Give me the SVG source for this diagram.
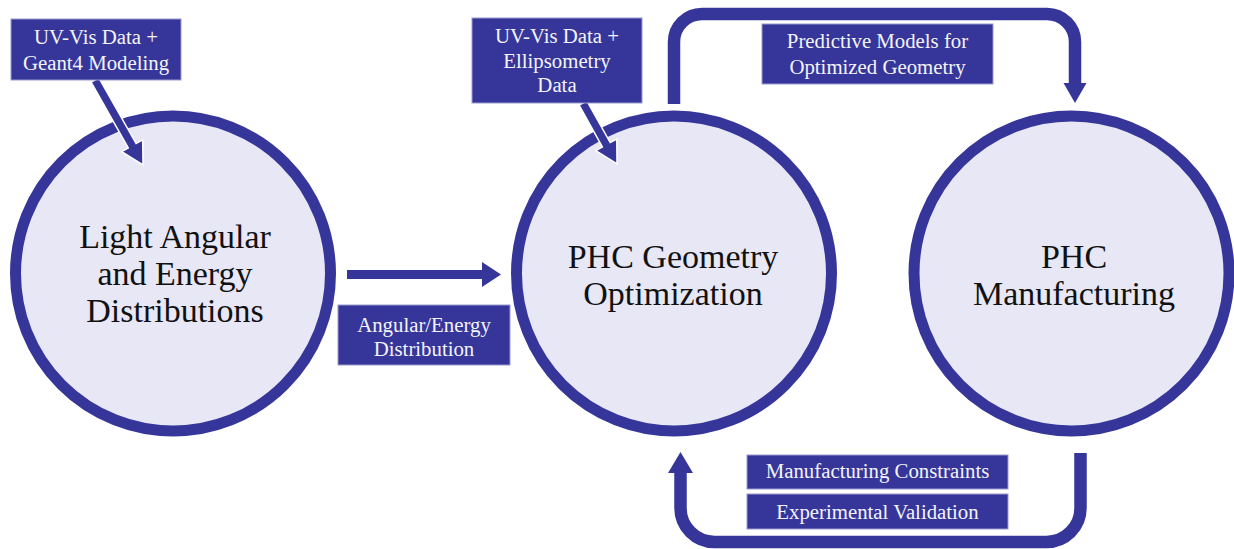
<svg xmlns="http://www.w3.org/2000/svg" width="1234" height="549" viewBox="0 0 1234 549">
<style>
.circ{fill:#E7E7F6;stroke:#36369A;stroke-width:11}
.ctext{font-family:'Liberation Serif','DejaVu Serif',serif;font-size:34px;fill:#111;text-anchor:middle}
.box{fill:#36369A;stroke:#9A9AD0;stroke-width:1}
.btext{font-family:'Liberation Serif','DejaVu Serif',serif;font-size:20.8px;fill:#F4F4F8;text-anchor:middle}
.loop{fill:none;stroke:#36369A;stroke-width:12.5;stroke-linecap:butt}
.head{fill:#36369A}
.dhead{fill:#36369A;stroke:#FFFFFF;stroke-width:1.5;stroke-linejoin:miter}
</style>
<rect width="1234" height="549" fill="#FFFFFF"/>
<g id="connectors">
  <path class="loop" d="M674,104 V42 A28,28 0 0 1 702,14 H1047 A28,28 0 0 1 1075,42 V84"/>
  <polygon class="head" points="1063.5,83 1086.5,83 1075,103"/>
  <path class="loop" d="M1080.5,453 V508 A34,34 0 0 1 1046.5,542 H714.5 A34,34 0 0 1 680.5,508 V472"/>
  <polygon class="head" points="668,473 693,473 680.5,452"/>
  <polygon class="head" points="347,270 482,270 482,262 501,274.5 482,287 482,279 347,279"/>
</g>
<g id="node-light">
  <circle class="circ" cx="173" cy="273.5" r="157.5"/>
  <text class="ctext" x="175" y="248">Light Angular</text>
  <text class="ctext" x="175" y="285">and Energy</text>
  <text class="ctext" x="175" y="322">Distributions</text>
</g>
<g id="node-geometry">
  <circle class="circ" cx="674" cy="273.5" r="157.5"/>
  <text class="ctext" x="673" y="268">PHC Geometry</text>
  <text class="ctext" x="673" y="305">Optimization</text>
</g>
<g id="node-manufacturing">
  <circle class="circ" cx="1071.5" cy="273.5" r="157.5"/>
  <text class="ctext" x="1074" y="268">PHC</text>
  <text class="ctext" x="1074" y="305">Manufacturing</text>
</g>
<g id="label-uvvis-geant4">
  <polygon class="dhead" points="98.9,77.8 136.1,143.6 142.7,139.9 143,165 121.7,151.7 128.3,148 91.1,82.2"/>
  <rect class="box" x="11" y="19" width="170" height="61"/>
  <text class="btext" x="96" y="44">UV-Vis Data +</text>
  <text class="btext" x="96" y="70">Geant4 Modeling</text>
</g>
<g id="label-uvvis-ellipsometry">
  <polygon class="dhead" points="586.9,100.8 610.2,142.6 616.8,139 617,164 595.8,150.6 602.4,147 579.1,105.2"/>
  <rect class="box" x="472" y="18" width="170" height="85"/>
  <text class="btext" x="557" y="43">UV-Vis Data +</text>
  <text class="btext" x="557" y="68">Ellipsometry</text>
  <text class="btext" x="557" y="92">Data</text>
</g>
<g id="label-predictive">
  <rect class="box" x="762" y="24" width="231" height="60"/>
  <text class="btext" x="877.5" y="48">Predictive Models for</text>
  <text class="btext" x="877.5" y="74">Optimized Geometry</text>
</g>
<g id="label-angular">
  <rect class="box" x="338" y="305" width="172" height="60"/>
  <text class="btext" x="424" y="332">Angular/Energy</text>
  <text class="btext" x="424" y="356">Distribution</text>
</g>
<g id="label-constraints">
  <rect class="box" x="747" y="455" width="261" height="34"/>
  <text class="btext" x="877.5" y="478">Manufacturing Constraints</text>
</g>
<g id="label-validation">
  <rect class="box" x="747" y="494" width="261" height="35"/>
  <text class="btext" x="877.5" y="519">Experimental Validation</text>
</g>
</svg>
